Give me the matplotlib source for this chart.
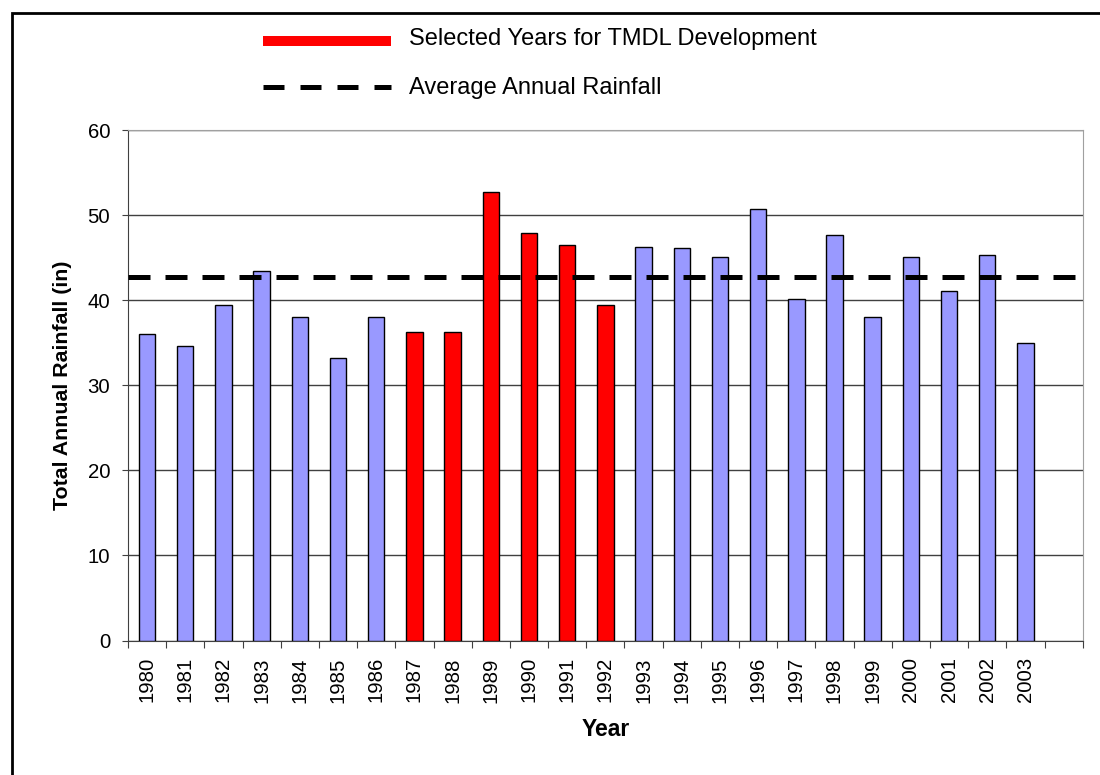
import matplotlib.pyplot as plt
import numpy as np
from matplotlib.lines import Line2D
from matplotlib.patches import Rectangle

plt.rcParams['font.family'] = ['Liberation Sans', 'DejaVu Sans']

years = [str(y) for y in range(1980, 2004)]
rainfall = [36.1, 34.6, 39.5, 43.4, 38.1, 33.2, 38.1, 36.3, 36.3, 52.8, 47.9, 46.5,
            39.5, 46.3, 46.1, 45.1, 50.7, 40.2, 47.7, 38.1, 45.1, 41.1, 45.3, 35.0]
selected = ['1987', '1988', '1989', '1990', '1991', '1992']
average = 42.75

fig = plt.figure(figsize=(11, 7.75), dpi=100)
ax = fig.add_axes([128 / 1100, 1 - 640.5 / 775, (1082.7 - 128) / 1100, (640.5 - 130.3) / 775])

x = np.arange(len(years))
colors = ['#ff0000' if y in selected else '#9999ff' for y in years]
ax.bar(x, rainfall, width=0.43, color=colors, edgecolor='black', linewidth=1, zorder=3)
ax.axhline(average, color='black', linewidth=3.6, linestyle=(0, (4.4, 3)), zorder=4)

ax.set_xlim(-0.5, len(years) + 0.5)
ax.set_ylim(0, 60)
ax.set_yticks(range(0, 61, 10))
ax.yaxis.grid(True, color='#404040', linewidth=1)
ax.set_axisbelow(True)

# ticks sit between categories, labels in the middle
ax.set_xticks(np.arange(-0.5, len(years) + 1, 1), minor=False)
ax.set_xticklabels([])
ax.set_xticks(x, minor=True)
ax.set_xticklabels(years, minor=True, rotation=90, fontsize=14.7)
ax.tick_params(axis='x', which='major', direction='out', length=4.8, color='#404040')
ax.tick_params(axis='x', which='minor', length=0, pad=12)
ax.tick_params(axis='y', direction='out', length=4.3, labelsize=14.7, pad=8.6, color='#404040')

for side in ['top', 'right']:
    ax.spines[side].set_color('#a0a0a0')
ax.spines['left'].set_color('#404040')
ax.spines['bottom'].set_color('#404040')

ax.set_xlabel('Year', fontsize=16.5, fontweight='bold', labelpad=11)
ax.set_ylabel('Total Annual Rainfall (in)', fontsize=15.4, fontweight='bold', labelpad=10.8)

# legend drawn above the plot
fig.add_artist(Line2D([263 / 1100, 391 / 1100], [1 - 41 / 775] * 2, color='#ff0000', linewidth=7.2,
                      solid_capstyle='butt'))
fig.add_artist(Line2D([263 / 1100, 391 / 1100], [1 - 87 / 775] * 2, color='black', linewidth=3.6,
                      linestyle=(0, (4.2, 3.2))))
fig.text(409 / 1100, 1 - 39 / 775, 'Selected Years for TMDL Development', fontsize=17, va='center')
fig.text(409 / 1100, 1 - 88 / 775, 'Average Annual Rainfall', fontsize=17, va='center')

# outer frame
fig.add_artist(Rectangle((12 / 1100, -0.05), 1.2, 1 - 13 / 775 + 0.05, fill=False,
                         edgecolor='black', linewidth=2, transform=fig.transFigure))

fig.savefig('out.png', dpi=100)
